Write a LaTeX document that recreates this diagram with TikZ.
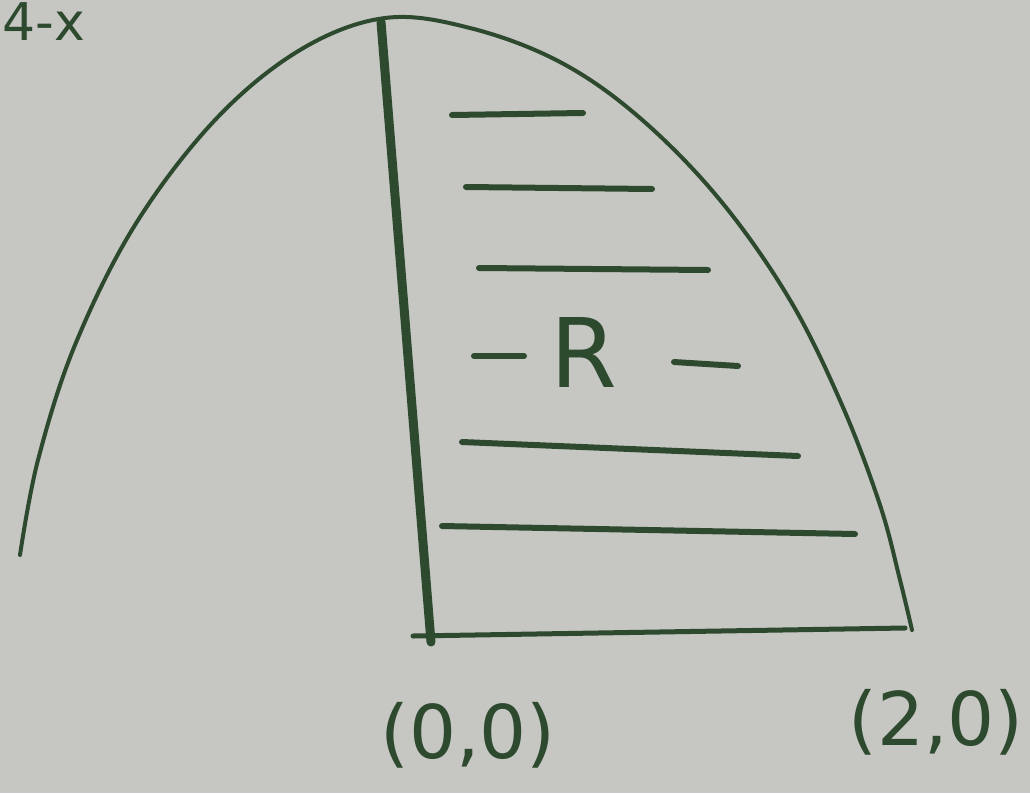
\documentclass[tikz,border=0pt]{standalone}
\usepackage{fontspec}
\setmainfont{DejaVu Sans}
\definecolor{paper}{HTML}{C6C6C3}
\definecolor{ink}{HTML}{2E4A2E}
\begin{document}
\begin{tikzpicture}[x=1pt,y=-1pt,
  inkline/.style={draw=ink,line cap=round,line join=round},
  hatch/.style={inkline,line width=6pt},
  lbl/.style={text=ink,inner sep=0pt,font=\fontsize{74}{74}\selectfont}]
\useasboundingbox (0,0) rectangle (1030,793);
\fill[paper] (0,0) rectangle (1030,793);
% parabola
\draw[inkline,line width=4pt] plot[smooth,tension=0.6] coordinates {
 (20,555) (38,460) (75,345) (135,225) (215,120) (300,50) (385,18)
 (470,28) (560,62) (640,118) (720,200) (790,300) (842,405) (880,505) (900,580) (912,630)};
% axis (vertical) and base
\coordinate (top) at (381,22);
\coordinate (foot) at (431,642);
\coordinate (b1) at (413,636);
\coordinate (b2) at (905,628);
\draw[inkline,line width=9pt] (top) -- (foot);
\draw[inkline,line width=5pt] (b1) -- (b2);
% hatch lines
\draw[hatch] (452,115) -- (583,113);
\draw[hatch] (466,187) -- (652,189);
\draw[hatch] (479,268) -- (708,270);
\draw[hatch] (474,356) -- (524,356);
\draw[hatch] (674,362) -- (738,366);
\draw[hatch] (462,442) -- (798,456);
\draw[hatch] (442,526) -- (855,534);
% labels
\node[lbl,font=\fontsize{96}{96}\selectfont] (R) at (584,352) {R};
\node[lbl] (o) at (468,735) {(0,0)};
\node[lbl,anchor=east] (t) at (1024,722) {(2,0)};
\node[lbl,anchor=north west,font=\fontsize{52}{52}\selectfont] (f) at (2,2) {4-x};
\end{tikzpicture}
\end{document}
